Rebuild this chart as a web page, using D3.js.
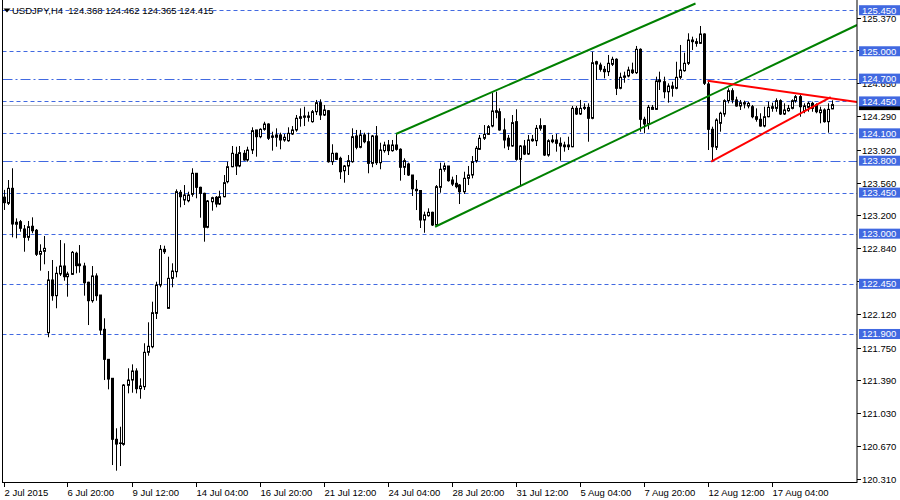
<!DOCTYPE html>
<html><head><meta charset="utf-8">
<script src="https://cdn.jsdelivr.net/npm/d3@7"></script>
<style>body{margin:0;background:#fff;overflow:hidden}svg{display:block}text{font-family:"Liberation Sans",Arial,sans-serif;white-space:pre}</style>
</head><body><svg id="c" width="900" height="500"></svg>
<script>
const symbolTitle = "USDJPY,H4";
const lastQuote = ["124.368","124.462","124.365","124.415"];

const open = [
123.400,123.333,123.497,123.103,123.131,123.051,122.960,123.081,123.037,122.774,
122.806,121.914,122.492,122.320,122.558,122.645,122.528,122.554,122.785,122.667,
122.645,122.467,122.265,122.536,122.327,121.951,121.622,121.414,120.745,120.699,
120.690,121.337,121.395,121.494,121.300,121.322,121.699,121.760,122.126,122.437,
122.828,122.181,122.510,122.583,123.453,123.369,123.361,123.431,123.662,123.508,
123.442,123.070,123.350,123.399,123.325,123.405,123.570,123.734,123.870,123.742,
123.881,123.808,123.917,124.137,124.063,124.144,124.202,124.071,124.057,124.082,
124.027,124.019,124.093,124.137,124.282,124.276,124.290,124.228,124.337,124.436,
124.301,124.348,123.789,123.881,123.826,123.690,123.742,123.789,124.071,123.947,
124.082,124.008,123.771,124.071,123.778,123.910,123.972,123.910,123.972,123.925,
123.728,123.764,123.643,123.486,123.473,123.150,123.197,123.234,123.095,123.508,
123.706,123.742,123.588,123.552,123.533,123.460,123.607,123.643,123.800,123.925,
124.046,124.089,124.180,124.348,124.337,124.137,124.046,123.961,124.228,123.815,
123.961,123.873,124.019,124.019,124.155,124.184,123.862,124.027,124.027,123.991,
123.972,123.972,123.953,124.374,124.312,124.385,124.385,124.265,124.885,124.849,
124.802,124.776,124.857,124.912,124.594,124.714,124.729,124.794,124.765,125.021,
124.254,124.202,124.385,124.363,124.685,124.666,124.556,124.619,124.594,124.714,
124.787,124.868,125.105,125.105,125.087,125.189,124.641,124.144,123.947,124.210,
124.312,124.458,124.567,124.466,124.400,124.436,124.400,124.392,124.282,124.254,
124.180,124.282,124.374,124.374,124.458,124.312,124.348,124.374,124.458,124.502,
124.348,124.385,124.429,124.411,124.326,124.356,124.228,124.368];

const high = [
123.480,123.588,123.717,123.168,123.150,123.095,123.139,123.179,123.051,122.883,
122.974,122.590,122.711,122.638,122.930,122.894,122.583,122.810,122.802,122.875,
122.681,122.473,122.645,122.565,122.327,122.072,121.622,121.414,120.866,120.883,
121.351,121.524,121.567,121.524,121.414,121.798,122.028,122.254,122.473,122.875,
122.868,122.747,122.675,123.486,123.479,123.533,123.460,123.717,123.662,123.515,
123.449,123.369,123.405,123.413,123.471,123.643,123.789,123.961,123.953,123.961,
123.917,123.953,124.166,124.137,124.155,124.227,124.210,124.118,124.155,124.107,
124.093,124.166,124.180,124.301,124.374,124.392,124.337,124.356,124.466,124.473,
124.411,124.356,123.980,123.888,123.844,123.753,123.862,124.155,124.137,124.137,
124.107,124.107,124.082,124.180,123.997,124.008,124.027,124.027,124.093,123.936,
123.826,123.778,123.643,123.588,123.473,123.241,123.278,123.241,123.533,123.778,
123.778,123.742,123.625,123.643,123.544,123.679,123.742,123.851,123.961,124.082,
124.191,124.191,124.546,124.557,124.374,124.265,124.082,124.301,124.364,123.972,
124.027,124.082,124.082,124.191,124.265,124.191,124.035,124.082,124.093,124.056,
124.008,124.063,124.400,124.400,124.466,124.429,124.429,124.995,124.896,124.875,
124.838,124.959,124.940,124.923,124.765,124.776,124.831,124.875,125.058,125.032,
124.282,124.411,124.411,124.721,124.776,124.721,124.648,124.666,124.885,125.069,
124.984,125.197,125.160,125.142,125.277,125.197,124.666,124.173,124.265,124.337,
124.473,124.594,124.594,124.502,124.466,124.458,124.447,124.411,124.374,124.320,
124.392,124.447,124.436,124.484,124.473,124.429,124.411,124.473,124.520,124.520,
124.429,124.447,124.447,124.429,124.392,124.374,124.429,124.462];

const low = [
123.260,123.314,122.960,122.949,123.021,122.802,122.923,123.004,122.755,122.594,
122.664,121.864,122.265,122.182,122.536,122.484,122.309,122.547,122.565,122.572,
122.320,121.998,122.243,122.265,121.889,121.395,121.293,120.463,120.401,120.452,
120.675,121.249,121.256,121.249,121.190,121.286,121.662,121.743,122.064,122.412,
122.777,122.181,122.412,122.521,123.289,123.314,123.344,123.405,123.388,123.175,
122.912,123.059,123.252,123.289,123.314,123.399,123.552,123.728,123.643,123.728,
123.800,123.789,123.873,123.844,124.046,124.129,124.027,123.910,123.953,123.925,
124.008,124.008,124.082,124.118,124.173,124.180,124.228,124.217,124.301,124.246,
124.290,123.778,123.753,123.808,123.599,123.559,123.643,123.778,123.925,123.936,
123.991,123.662,123.728,123.753,123.706,123.888,123.862,123.899,123.910,123.581,
123.643,123.632,123.413,123.259,123.062,123.010,123.186,123.084,123.084,123.449,
123.679,123.570,123.522,123.497,123.325,123.435,123.533,123.607,123.778,123.917,
124.027,124.082,124.166,124.265,124.129,123.936,123.917,123.953,123.800,123.522,
123.862,123.862,124.008,123.961,124.129,123.851,123.844,123.991,123.899,123.800,
123.899,123.917,123.947,124.301,124.301,124.356,124.008,124.254,124.685,124.776,
124.703,124.729,124.838,124.520,124.583,124.655,124.714,124.751,124.751,124.118,
124.100,124.144,124.363,124.356,124.575,124.484,124.436,124.502,124.583,124.692,
124.776,124.849,125.014,125.050,125.080,124.630,123.917,123.789,123.917,124.118,
124.282,124.429,124.429,124.392,124.356,124.374,124.374,124.265,124.228,124.173,
124.166,124.276,124.337,124.337,124.301,124.301,124.337,124.363,124.436,124.282,
124.320,124.337,124.337,124.320,124.210,124.217,124.107,124.365];

const close = [
123.340,123.497,123.106,123.125,123.059,122.960,123.076,123.032,122.774,122.806,
122.839,122.492,122.320,122.565,122.645,122.528,122.558,122.795,122.649,122.649,
122.462,122.265,122.536,122.320,121.943,121.622,121.406,120.745,120.693,120.705,
121.340,121.395,121.494,121.300,121.329,121.699,121.765,122.133,122.437,122.828,
122.802,122.510,122.590,123.460,123.405,123.424,123.424,123.662,123.508,123.442,
123.070,123.358,123.394,123.325,123.405,123.559,123.734,123.881,123.742,123.888,
123.808,123.917,124.129,124.063,124.144,124.202,124.046,124.057,124.082,124.027,
124.057,124.100,124.137,124.265,124.265,124.290,124.276,124.337,124.436,124.301,
124.356,123.789,123.881,123.815,123.679,123.742,123.800,124.063,123.947,124.082,
124.008,123.771,124.071,123.778,123.917,123.972,123.910,123.972,123.925,123.728,
123.800,123.643,123.492,123.471,123.150,123.205,123.234,123.095,123.515,123.706,
123.742,123.581,123.544,123.515,123.460,123.607,123.643,123.789,123.936,124.046,
124.089,124.173,124.345,124.331,124.137,124.027,123.961,124.217,123.815,123.961,
123.873,124.027,124.035,124.155,124.184,123.862,124.019,124.008,123.991,123.961,
123.953,123.953,124.374,124.312,124.374,124.374,124.265,124.874,124.860,124.802,
124.776,124.868,124.912,124.594,124.714,124.729,124.794,124.765,125.021,124.254,
124.202,124.385,124.363,124.674,124.666,124.556,124.619,124.594,124.714,124.794,
124.868,125.123,125.123,125.087,125.189,124.649,124.144,123.953,124.246,124.320,
124.458,124.567,124.466,124.400,124.436,124.422,124.429,124.282,124.254,124.180,
124.282,124.385,124.392,124.458,124.312,124.356,124.374,124.458,124.502,124.392,
124.400,124.429,124.374,124.337,124.356,124.228,124.363,124.415];

const timeLabels = ["2 Jul 2015","6 Jul 20:00","9 Jul 12:00","14 Jul 04:00","16 Jul 20:00","21 Jul 12:00","24 Jul 04:00","28 Jul 20:00","31 Jul 12:00","5 Aug 04:00","7 Aug 20:00","12 Aug 12:00","17 Aug 04:00"];
const timeLabelIndex = [0,16,32,48,64,80,96,112,128,144,160,176,192];

// price-scale labels (those fully covered by a level label are not drawn)
const priceTicks = [125.370,125.010,124.650,124.290,123.920,123.560,123.200,122.840,122.480,122.120,121.750,121.390,121.030,120.670,120.310];
const priceTickHidden = [125.010];
const levels = [125.450,125.000,124.700,124.450,124.100,123.800,123.450,123.000,122.450,121.900];
const levelStyle = ["dash","dash","dashdot","dash","dash","dashdot","dash","dash","dash","dash"];
const bidPrice = 124.415;

// trend lines: [startIndex, startPrice, endIndex, endPrice]
const trendNames = ["channelTop","channelBottom","triangleTop","triangleBottom"];
const trendStartIdx = [98.1, 107.9, 176.0, 176.9];
const trendStartPrice = [124.093, 123.076, 124.677, 123.789];
const trendEndIdx = [173.0, 213.4, 213.4, 206.8];
const trendEndPrice = [125.524, 125.288, 124.444, 124.498];
const trendColor = ["#008000","#008000","#ff0000","#ff0000"];

const left = 2.5, right = 857, bottom = 483;
const svg = d3.select("#c");
const blue = "#4169e1";

const x = d3.scaleLinear().domain([-0.25, 213.5]).range([2.5, 857.5]);
const y = d3.scaleLinear().domain([120.266, 125.562]).range([bottom, 0]);

svg.append("defs").append("clipPath").attr("id","clip")
  .append("rect").attr("x",left).attr("y",0).attr("width",right-left).attr("height",bottom);

const plot = svg.append("g").attr("clip-path","url(#clip)");

// horizontal levels
plot.selectAll("line.level").data(levels).join("line")
  .attr("class","level")
  .attr("x1",left).attr("x2",right)
  .attr("y1",d=>Math.round(y(d))+0.5).attr("y2",d=>Math.round(y(d))+0.5)
  .attr("stroke",blue).attr("stroke-width",1)
  .attr("stroke-dasharray",(d,i)=>levelStyle[i]==="dashdot"?"10,3,2,3":"4,3");

// bid line
plot.append("line").attr("x1",left).attr("x2",right)
  .attr("y1",Math.round(y(bidPrice))+0.5).attr("y2",Math.round(y(bidPrice))+0.5)
  .attr("stroke","#c0c0c0").attr("stroke-width",1);

// candles
const idx = d3.range(open.length);
const cx = i => Math.round(x(i)) + 0.5;
plot.selectAll("line.wick").data(idx).join("line")
  .attr("class","wick")
  .attr("x1",cx).attr("x2",cx)
  .attr("y1",i=>y(high[i])).attr("y2",i=>y(low[i]))
  .attr("stroke","#000").attr("stroke-width",1);
plot.selectAll("rect.body").data(idx).join("rect")
  .attr("class","body")
  .attr("x",i=>cx(i)-1).attr("width",2)
  .attr("y",i=>y(Math.max(open[i],close[i])))
  .attr("height",i=>Math.max(0.5, Math.abs(y(open[i])-y(close[i]))))
  .attr("fill",i=>close[i]>=open[i]?"#fff":"#000")
  .attr("stroke","#000").attr("stroke-width",1);

// trend lines
plot.selectAll("line.trend").data(trendNames).join("line")
  .attr("class","trend")
  .attr("x1",(d,i)=>x(trendStartIdx[i])).attr("y1",(d,i)=>y(trendStartPrice[i]))
  .attr("x2",(d,i)=>x(trendEndIdx[i])).attr("y2",(d,i)=>y(trendEndPrice[i]))
  .attr("stroke",(d,i)=>trendColor[i]).attr("stroke-width",2);

// frame
svg.append("line").attr("x1",left).attr("x2",left).attr("y1",0).attr("y2",bottom).attr("stroke","#000");
svg.append("line").attr("x1",left).attr("x2",right).attr("y1",bottom-0.5).attr("y2",bottom-0.5).attr("stroke","#000");
svg.append("line").attr("x1",right).attr("x2",right).attr("y1",0).attr("y2",bottom).attr("stroke","#000");

// x axis
const xa = svg.append("g");
timeLabelIndex.forEach((ti,k)=>{
  const px = cx(ti);
  xa.append("line").attr("x1",px).attr("x2",px).attr("y1",bottom).attr("y2",bottom+4).attr("stroke","#000");
  xa.append("text").attr("x",px).attr("y",496).attr("font-size","9.5px").attr("fill","#000").text(timeLabels[k]);
});

// y axis ticks
const ya = svg.append("g");
priceTicks.forEach(p=>{
  const py = Math.round(y(p))+0.5;
  ya.append("line").attr("x1",right).attr("x2",right+4).attr("y1",py).attr("y2",py).attr("stroke","#000");
  if (!priceTickHidden.includes(p))
    ya.append("text").attr("x",862).attr("y",py+3.5).attr("font-size","9.5px").attr("fill","#000").text(p.toFixed(3));
});
// bid marker (mostly covered by the 124.450 label)
ya.append("rect").attr("x",859).attr("y",y(bidPrice)-5.5).attr("width",41).attr("height",11).attr("fill","#000");
// level labels
levels.forEach(p=>{
  const py = y(p);
  ya.append("rect").attr("x",859).attr("y",py-5).attr("width",41).attr("height",10).attr("fill",blue);
  ya.append("text").attr("x",862).attr("y",py+3.5).attr("font-size","9.5px").attr("fill","#fff").text(p.toFixed(3));
});

// title
svg.append("path").attr("d","M3.5,8.5 L10.5,8.5 L7,12.5 Z").attr("fill","#000");
svg.append("text").attr("x",12).attr("y",14).attr("font-size","9.5px").attr("fill","#000")
  .text(symbolTitle + "  " + lastQuote.join(" "));
</script>
</body></html>
